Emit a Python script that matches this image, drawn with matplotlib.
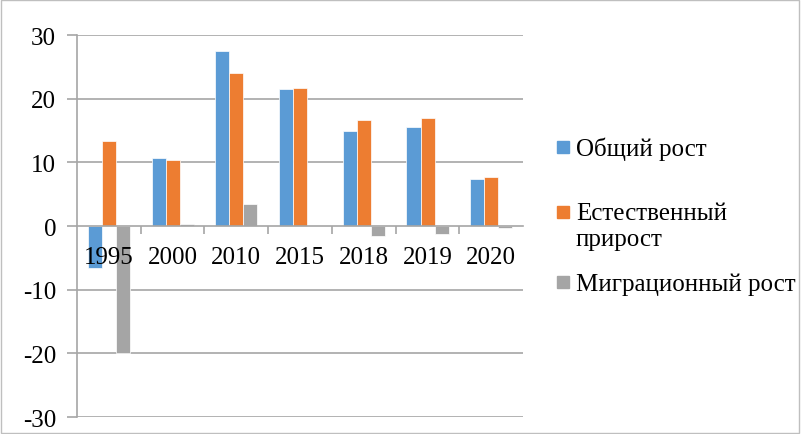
import numpy as np
import matplotlib
matplotlib.use('Agg')
import matplotlib.pyplot as plt
from matplotlib.patches import Rectangle

# data
years   = ['1995', '2000', '2010', '2015', '2018', '2019', '2020']
total   = [-6.6, 10.7, 27.5, 21.6, 14.9, 15.5, 7.4]
natural = [13.3, 10.4, 24.0, 21.7, 16.6, 16.9, 7.7]
migr    = [-20.0, 0.3, 3.5, 0.0, -1.6, -1.3, -0.3]
labels  = ['Общий рост', 'Естественный\nприрост', 'Миграционный рост']
colors  = ['#5b9bd5', '#ed7d31', '#a5a5a5']

plt.rcParams['font.family'] = ['Liberation Serif', 'DejaVu Serif']
plt.rcParams['axes.unicode_minus'] = False
fs = 18
gcol = '#a6a6a6'

fig = plt.figure(figsize=(8.01, 4.35), dpi=100)
ax = fig.add_axes([0.0961, 0.039, 0.557, 0.878])

x = np.arange(len(years))
w = 0.22
for i, (vals, col) in enumerate(zip([total, natural, migr], colors)):
    ax.bar(x + (i - 1) * w, vals, w, color=col,
           edgecolor='white', linewidth=0.5, zorder=1.2)

ax.set_xlim(-0.5, len(years) - 0.5)
ax.set_ylim(-30, 30)
yt = np.arange(-30, 31, 10)
ax.set_yticks(yt)
# gridlines behind the bars, tick labels (axis zorder 1.5) in front
for v in yt:
    if v != 0:
        ax.axhline(v, color=gcol, linewidth=1.2, zorder=0.5)

for s in ['top', 'right']:
    ax.spines[s].set_visible(False)
ax.spines['left'].set_color(gcol)
ax.spines['left'].set_linewidth(1.2)
ax.spines['bottom'].set_position(('data', 0))
ax.spines['bottom'].set_color(gcol)
ax.spines['bottom'].set_linewidth(1.2)

ax.set_xticks(x)
ax.set_xticklabels(years, fontsize=fs)
ax.set_xticks(np.arange(0.5, len(years) - 1, 1), minor=True)
ax.tick_params(axis='x', which='major', length=0, pad=14)
ax.tick_params(axis='x', which='minor', length=6, color=gcol, width=1.2)
ax.tick_params(axis='y', length=7, color=gcol, width=1.2, labelsize=fs, pad=8)

# legend drawn by hand so the marker sits on the first line of a two-line label
leg_y = [148, 213, 283]  # pixel rows from the top
for lab, col, yy in zip(labels, colors, leg_y):
    yf = 1 - yy / 435
    fig.patches.append(Rectangle((557 / 801, yf - 6 / 435), 12 / 801, 12 / 435,
                                 transform=fig.transFigure, color=col))
    fig.text(576 / 801, yf + 10 / 435, lab, fontsize=fs, va='top', ha='left',
             linespacing=1.25)

# thin frame round the whole picture
fig.patches.append(Rectangle((0.001, 0.003), 0.997, 0.994, transform=fig.transFigure,
                             fill=False, edgecolor='#bfbfbf', linewidth=1))

fig.savefig('out.png', dpi=100)
